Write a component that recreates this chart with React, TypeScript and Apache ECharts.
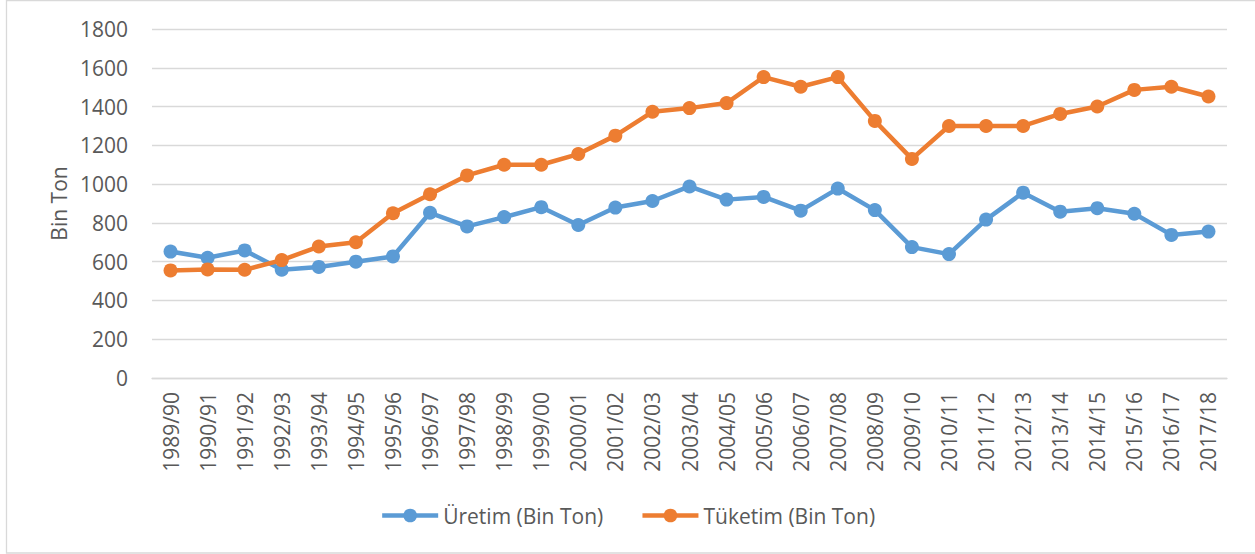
import React, { useEffect, useRef } from "react";
import * as echarts from "echarts";

const categories = [
  "1989/90", "1990/91", "1991/92", "1992/93", "1993/94", "1994/95", "1995/96",
  "1996/97", "1997/98", "1998/99", "1999/00", "2000/01", "2001/02", "2002/03",
  "2003/04", "2004/05", "2005/06", "2006/07", "2007/08", "2008/09", "2009/10",
  "2010/11", "2011/12", "2012/13", "2013/14", "2014/15", "2015/16", "2016/17",
  "2017/18",
];

const uretim = [
  652, 620, 658, 558, 573, 600, 627, 852, 782, 830, 881, 789, 879, 913, 988,
  920, 934, 863, 977, 866, 675, 639, 817, 956, 858, 876, 847, 738, 755,
];

const tuketim = [
  555, 560, 558, 608, 678, 700, 850, 948, 1045, 1100, 1100, 1155, 1250, 1373,
  1392, 1418, 1552, 1502, 1552, 1326, 1130, 1300, 1300, 1300, 1362, 1400, 1486,
  1502, 1452,
];

const seriesNames = ["Üretim (Bin Ton)", "Tüketim (Bin Ton)"];
const yAxisName = "Bin Ton";

const FONT = "'Open Sans', 'Liberation Sans', sans-serif";
const TEXT = "#595959";
const GRID = "#d9d9d9";
const FS = 21;

export default function App() {
  const ref = useRef<HTMLDivElement>(null);

  useEffect(() => {
    document.body.style.margin = "0";
    const chart = echarts.init(ref.current!, null, { renderer: "svg" });
    chart.setOption({
      animation: false,
      textStyle: { fontFamily: FONT },
      graphic: [
        {
          type: "rect",
          shape: { x: 6.5, y: 0.5, width: 1260, height: 552.5 },
          style: { fill: "none", stroke: GRID, lineWidth: 1.3 },
          silent: true,
        },
      ],
      grid: { left: 152, right: 28, top: 29, bottom: 176 },
      legend: {
        bottom: 23,
        left: "center",
        itemWidth: 56,
        itemHeight: 17,
        itemGap: 37,
        lineStyle: { width: 4.5 },
        textStyle: { color: TEXT, fontSize: FS, fontFamily: FONT },
        data: seriesNames,
      },
      xAxis: {
        type: "category",
        data: categories,
        boundaryGap: true,
        axisLine: { show: true, lineStyle: { color: GRID, width: 1.3 } },
        axisTick: { show: false },
        axisLabel: {
          rotate: 90,
          margin: 14,
          color: TEXT,
          fontSize: FS,
          fontFamily: FONT,
          interval: 0,
        },
      },
      yAxis: {
        type: "value",
        min: 0,
        max: 1800,
        interval: 200,
        name: yAxisName,
        nameLocation: "middle",
        nameRotate: 90,
        nameGap: 80,
        nameTextStyle: { color: TEXT, fontSize: FS, fontFamily: FONT },
        axisLine: { show: false },
        axisTick: { show: false },
        axisLabel: {
          color: TEXT,
          fontSize: FS,
          fontFamily: FONT,
          margin: 24,
          formatter: (v: number) => String(v),
        },
        splitLine: { lineStyle: { color: GRID, width: 1.3 } },
      },
      series: [
        {
          name: seriesNames[0],
          type: "line",
          data: uretim,
          symbol: "circle",
          symbolSize: 14,
          lineStyle: { color: "#5B9BD5", width: 4.5 },
          itemStyle: { color: "#5B9BD5" },
        },
        {
          name: seriesNames[1],
          type: "line",
          data: tuketim,
          symbol: "circle",
          symbolSize: 14,
          lineStyle: { color: "#ED7D31", width: 4.5 },
          itemStyle: { color: "#ED7D31" },
        },
      ],
    });
    return () => chart.dispose();
  }, []);

  return (
    <div
      ref={ref}
      style={{ position: "fixed", left: 0, top: 0, width: 1255, height: 554, background: "#fff" }}
    />
  );
}
